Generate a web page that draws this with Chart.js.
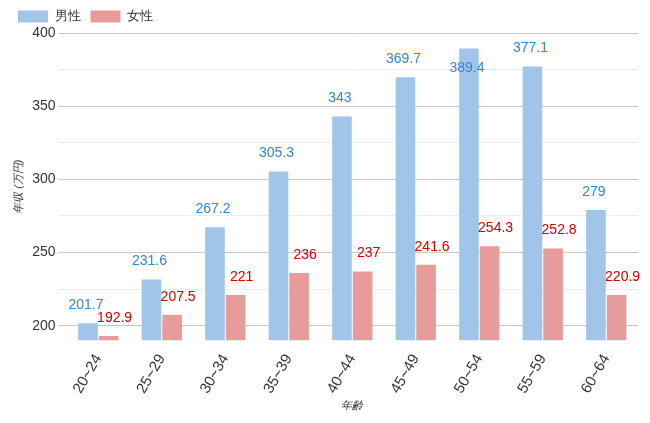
<!DOCTYPE html>
<html><head><meta charset="utf-8">
<script src="https://cdn.jsdelivr.net/npm/chart.js@4"></script>
<style>body{margin:0;background:#fff}#w{width:650px;height:423px}</style>
</head><body><div id="w"><canvas id="c"></canvas></div>
<script>
const categories=["20~24","25~29","30~34","35~39","40~44","45~49","50~54","55~59","60~64"];
const male=[201.7,231.6,267.2,305.3,343,369.7,389.4,377.1,279];
const female=[192.9,207.5,221,236,237,241.6,254.3,252.8,220.9];
const labelPlugin={id:'lbl',afterDatasetsDraw(ch){
  const ctx=ch.ctx;ctx.save();ctx.font='14px "Liberation Sans", Arial';ctx.textAlign='center';ctx.textBaseline='middle';
  ch.data.datasets.forEach((ds,i)=>{
    const meta=ch.getDatasetMeta(i);
    meta.data.forEach((b,j)=>{
      let y=b.y-18; if(y<ch.chartArea.top+4) y=b.y+20;
      ctx.fillStyle=i===0?'#3a86c8':'#d40000';
      ctx.fillText(String(ds.data[j]),b.x+(i===1?6:-2),y);
    });
  });ctx.restore();}};
new Chart(document.getElementById('c'),{type:'bar',
 data:{labels:categories,datasets:[
  {label:'男性',data:male,backgroundColor:'#a0c5e8',categoryPercentage:0.65,barPercentage:0.95},
  {label:'女性',data:female,backgroundColor:'#e89b9b',categoryPercentage:0.65,barPercentage:0.95}]},
 options:{responsive:true,maintainAspectRatio:false,animation:false,
  layout:{padding:{left:8,right:12,top:0,bottom:10}},
  plugins:{legend:{position:'top',align:'start',labels:{boxWidth:30,boxHeight:12,font:{size:13},color:'#333'},
    onHover:null},tooltip:{enabled:false}},
  scales:{
   x:{grid:{display:false},border:{display:false},ticks:{maxRotation:60,minRotation:60,color:'#333',font:{size:15}},
      title:{display:true,text:'年齢',font:{size:11,style:'italic'},color:'#333',padding:0}},
   y:{min:190,max:400,border:{display:false},afterBuildTicks(a){a.ticks=[200,225,250,275,300,325,350,375,400].map(v=>({value:v}));},
      grid:{color:c=>c.tick&&c.tick.value%50===0?'#c8c8c8':'#ececec'},
      ticks:{color:'#333',font:{size:14},callback:v=>v%50===0?v:''},
      title:{display:true,text:'年収 (万円)',font:{size:11,style:'italic'},color:'#333'}}}},
 plugins:[labelPlugin,{id:'legShift',afterLayout(ch){const l=ch.legend;const dx=ch.chartArea.left-l.legendHitBoxes[0].left-2;l.legendHitBoxes.forEach(h=>h.left+=dx);}}]});
</script></body></html>
